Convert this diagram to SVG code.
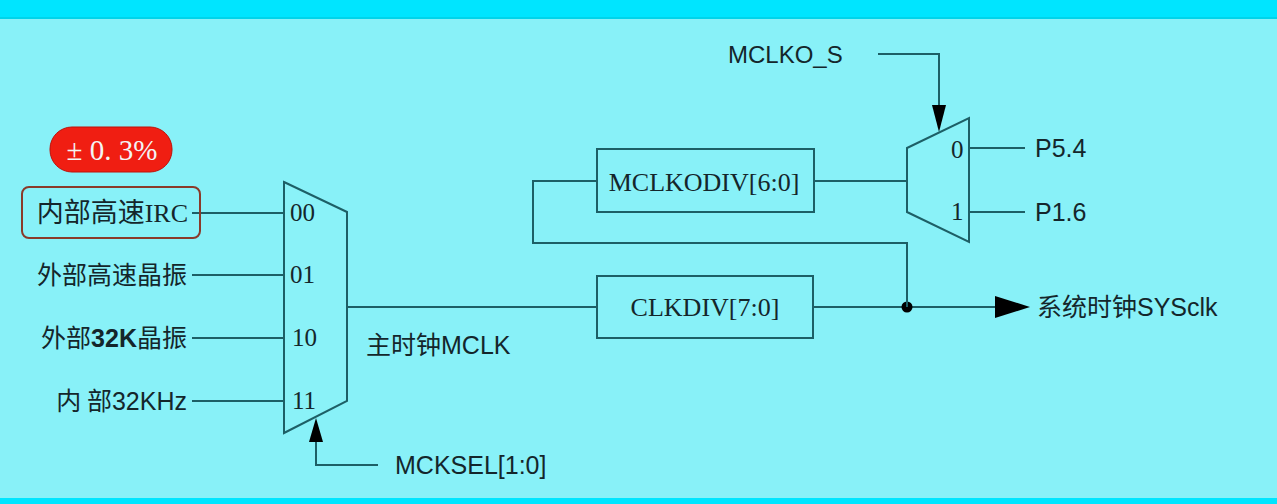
<svg xmlns="http://www.w3.org/2000/svg" width="1277" height="504" viewBox="0 0 1277 504">
<defs>
<style>
.ln{stroke:#1d5f66;stroke-width:2;fill:none}
.mux{stroke:#1d5f66;stroke-width:2;fill:#8af2f8}
.sf{font-family:"Liberation Serif","Noto Sans CJK SC",serif;font-size:26px;fill:#14262b}
.ss{font-family:"Liberation Sans","Noto Sans CJK SC",sans-serif;font-size:25px;fill:#14262b}
.cj{font-family:"Noto Sans CJK SC",sans-serif;font-size:25px;fill:#14262b}
.ml{font-family:"Liberation Serif",serif;font-size:25px;fill:#14262b}
</style>
</defs>
<rect x="0" y="0" width="1277" height="504" fill="#88f1f8"/>
<rect x="0" y="0" width="1277" height="17" fill="#00e5ff"/>
<rect x="0" y="17" width="1277" height="2" fill="#00d4ea"/>
<rect x="0" y="498" width="1277" height="6" fill="#00e5ff"/>

<g id="connectors">
<line class="ln" x1="192" y1="213" x2="284" y2="213"/>
<line class="ln" x1="192" y1="275" x2="284" y2="275"/>
<line class="ln" x1="192" y1="338" x2="284" y2="338"/>
<line class="ln" x1="192" y1="401" x2="284" y2="401"/>
<line class="ln" x1="347" y1="307" x2="597" y2="307"/>
<line class="ln" x1="813" y1="307" x2="995" y2="307"/>
<path d="M995,296 L1030,307 L995,318 Z" fill="#000"/>
<circle cx="907" cy="307" r="5.5" fill="#000"/>
<polyline class="ln" points="907,307 907,243 533,243 533,181 597,181"/>
<line class="ln" x1="813" y1="181" x2="907" y2="181"/>
<line class="ln" x1="969" y1="148" x2="1025" y2="148"/>
<line class="ln" x1="969" y1="212" x2="1025" y2="212"/>
<polyline class="ln" points="878,54 939,54 939,110"/>
<path d="M932,105 L946,105 L939,132 Z" fill="#000"/>
<polyline class="ln" points="378,465 316,465 316,440"/>
<path d="M309,442 L323,442 L316,418 Z" fill="#000"/>
</g>

<g id="badge">
<rect x="50" y="127" width="122" height="45" rx="22" fill="#f01e12" stroke="#c01008" stroke-width="1"/>
<text x="112" y="160" font-family="Liberation Serif,serif" font-size="29" fill="#f4f4f4" text-anchor="middle">± 0. 3%</text>
</g>

<g id="in0">
<rect x="22" y="187" width="178" height="51" rx="7" fill="none" stroke="#8a3a2a" stroke-width="2"/>
<text class="sf" x="188" y="222" text-anchor="end"><tspan class="cj" style="font-size:27px">内部高速</tspan>IRC</text>
</g>
<g id="in1"><text class="cj" x="187" y="284" text-anchor="end">外部高速晶振</text></g>
<g id="in2"><text class="cj" x="187" y="347" text-anchor="end">外部<tspan class="ss" style="font-weight:bold">32K</tspan>晶振</text></g>
<g id="in3"><text class="cj" x="187" y="410" text-anchor="end">内 部<tspan class="ss">32KHz</tspan></text></g>

<g id="mux1">
<polygon class="mux" points="284,182 347,212 347,401 284,433"/>
<text class="ml" x="290" y="221">00</text>
<text class="ml" x="290" y="283">01</text>
<text class="ml" x="292" y="346">10</text>
<text class="ml" x="292" y="409">11</text>
</g>

<g id="mclk"><text class="cj" x="366" y="354">主时钟<tspan class="ss">MCLK</tspan></text></g>
<g id="mcksel"><text class="ss" x="395" y="474">MCKSEL[1:0]</text></g>

<g id="mclkodiv">
<rect class="ln" x="597" y="149" width="217" height="63"/>
<text class="sf" x="704" y="191" text-anchor="middle">MCLKODIV[6:0]</text>
</g>
<g id="clkdiv">
<rect class="ln" x="597" y="276" width="216" height="62"/>
<text class="sf" x="705" y="316" text-anchor="middle">CLKDIV[7:0]</text>
</g>

<g id="mux2">
<polygon class="mux" points="907,148 969,118 969,242 907,212"/>
<text class="ml" x="951" y="158">0</text>
<text class="ml" x="951" y="220">1</text>
</g>

<g id="mclko_s"><text class="ss" x="728" y="63" style="font-size:24px">MCLKO_S</text></g>
<g id="p54"><text class="ss" x="1035" y="157">P5.4</text></g>
<g id="p16"><text class="ss" x="1035" y="221">P1.6</text></g>
<g id="sysclk"><text class="cj" x="1037" y="316">系统时钟<tspan class="ss">SYSclk</tspan></text></g>
</svg>
